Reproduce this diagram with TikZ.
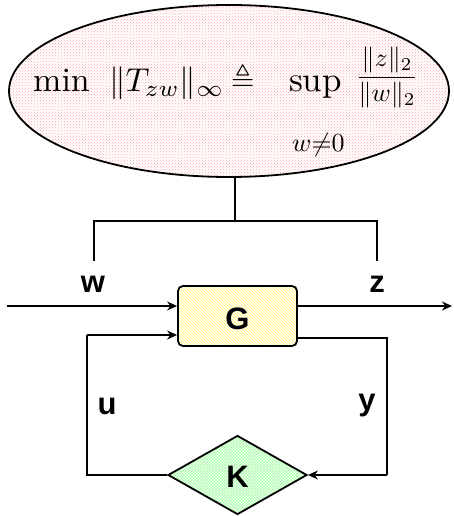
\documentclass[tikz,border=0pt]{standalone}
\usepackage{amsmath,amssymb}
\usepackage{fontspec}
\newfontfamily\lab{Liberation Sans}
\usetikzlibrary{shapes.geometric,patterns,arrows.meta}
\begin{document}
\begin{tikzpicture}[x=1pt,y=-1pt,
  line/.style={line width=1.8pt},
  arr/.style={line width=1.8pt,-{Stealth[length=10pt,width=9pt]}},
  lbl/.style={font=\lab\bfseries\fontsize{31}{34}\selectfont,inner sep=0pt},
  eqp/.style={inner sep=0pt,anchor=base west},
  gbox/.style={draw,line width=1.8pt,rounded corners=5pt,minimum width=119pt,minimum height=60pt,pattern=north west lines,pattern color=yellow!80!orange!60},
  kdia/.style={draw,diamond,line width=1.8pt,minimum width=139pt,minimum height=79pt,inner sep=0pt,aspect=1.76,pattern=crosshatch,pattern color=green!35!white},
  goal/.style={draw,ellipse,line width=1.8pt,minimum width=440pt,minimum height=172pt,inner sep=0pt,pattern=crosshatch dots,pattern color=red!35}
]
\useasboundingbox (0,0) rectangle (453,516);
\node[goal] (obj) at (229,91) {};
\node[eqp] (emin) at (33,92) {\scalebox{3.4}{$\min$}};
\node[eqp] (enorm) at (109,92) {\scalebox{3.3}{$\|T_{zw}\|_\infty$}};
\node[eqp] (edef) at (231,91) {\scalebox{3.0}{$\triangleq$}};
\node[eqp] (esup) at (289,92) {\scalebox{3.5}{$\sup$}};
\node[eqp] (ecnd) at (292,151) {\scalebox{2.6}{$w{\neq}0$}};
\node[inner sep=0pt,anchor=base] (efrac) at (387,84) {\scalebox{2.6}{$\dfrac{\|z\|_2}{\|w\|_2}$}};
\node[gbox] (G) at (237.5,316) {};
\node[lbl] at (237.5,319) {G};
\node[kdia] (K) at (237.5,475) {};
\node[lbl] at (237.5,477) {K};
\coordinate (top) at (235,221);
\coordinate (wl) at (94,261);
\coordinate (zr) at (377,261);
\coordinate (inw) at (7,306);
\coordinate (outz) at (452,306);
\coordinate (ul) at (87,335);
\coordinate (ud) at (87,475);
\coordinate (yr) at (387,338);
\coordinate (yd) at (387,475);
\draw[line] (obj.south -| top) -- (top);
\draw[line] (wl) |- (top) -| (zr);
\node[lbl] (w) at (93,284) {w};
\node[lbl] (z) at (377,284) {z};
\node[lbl] (u) at (107,406) {u};
\node[lbl] (y) at (367,406) {y};
\draw[arr] (inw) -- (inw -| G.west);
\draw[arr] (G.east |- outz) -- (outz);
\draw[line] (G.east |- yr) -- (yr) -- (yd);
\draw[arr] (yd) -- (K.east);
\draw[line] (K.west) -- (ud) -- (ul);
\draw[arr] (ul) -- (ul -| G.west);
\end{tikzpicture}
\end{document}
